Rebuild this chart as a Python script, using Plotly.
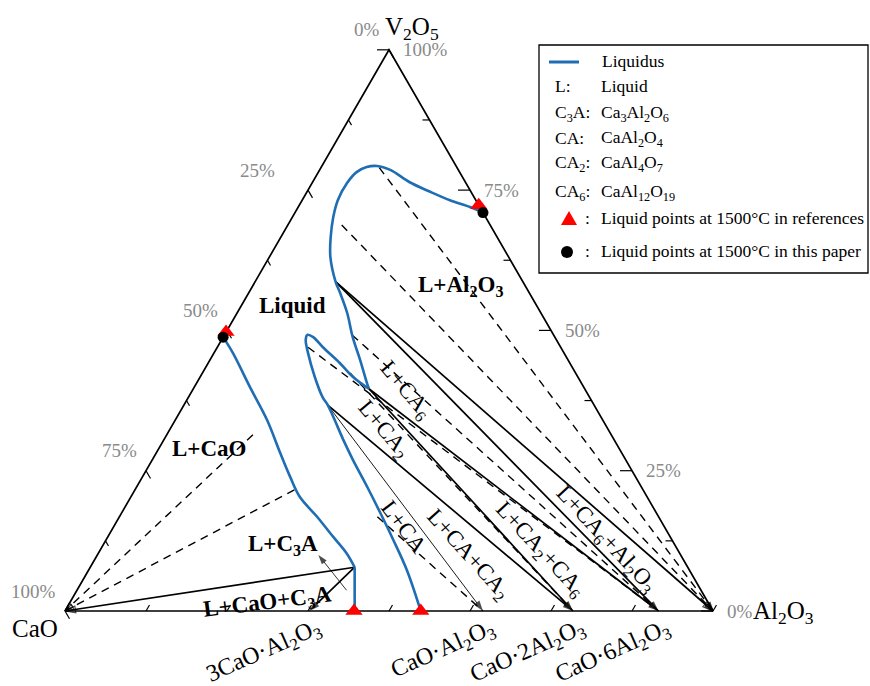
import numpy as np
import plotly.graph_objects as go

# ---------------- data: compositions in mass % (V2O5, Al2O3); CaO = balance ----------------
# liquidus of the L+CaO field (left-edge liquid down to the L+CaO+C3A liquid)
liq_cao_v2o5 = [48.8, 46.0, 39.9, 34.0, 28.2, 23.9, 20.3, 16.8, 13.2, 10.3, 7.8]
liq_cao_al2o3 = [0.0, 2.9, 8.6, 14.2, 19.1, 22.8, 26.1, 30.5, 34.8, 38.3, 40.8]
# liquidus of the narrow L+C3A field
liq_c3a_v2o5 = [7.8, 0.0]
liq_c3a_al2o3 = [40.8, 44.7]
# liquidus of the L+Al2O3 and L+CA6 fields
liq_al_v2o5 = [71.0, 72.0, 73.2, 74.7, 76.4, 78.6, 79.3, 79.1, 78.2, 76.3, 73.2, 70.2,
               66.6, 63.1, 58.7, 56.7, 53.1, 48.8, 44.7, 40.6, 39.6]
liq_al_al2o3 = [29.0, 26.5, 22.8, 19.0, 15.0, 10.9, 8.5, 7.0, 5.9, 5.4, 5.5, 6.3,
                7.7, 9.4, 12.4, 14.1, 17.0, 20.0, 23.2, 26.3, 27.1]
# liquidus of the L+CA2 and L+CA fields
liq_ca_v2o5 = [39.6, 41.7, 44.2, 47.0, 48.8, 49.2, 48.3, 46.0, 41.7, 38.1, 36.7, 34.6,
               30.5, 26.9, 22.1, 17.5, 12.7, 7.3, 0.0]
liq_ca_al2o3 = [27.1, 23.6, 20.3, 16.3, 13.9, 12.8, 13.0, 14.5, 17.7, 20.7, 22.2, 24.1,
                27.7, 31.0, 35.6, 39.9, 44.3, 49.1, 54.9]

# solid phases on the CaO-Al2O3 binary (Al2O3 mass %)
solid_names = ["CaO", "C3A", "CA", "CA2", "CA6", "Al2O3"]
solid_al2o3 = [0.0, 37.7, 64.5, 78.4, 91.6, 100.0]
compound_labels = ["3CaO·Al<sub>2</sub>O<sub>3</sub>", "CaO·Al<sub>2</sub>O<sub>3</sub>",
                   "CaO·2Al<sub>2</sub>O<sub>3</sub>", "CaO·6Al<sub>2</sub>O<sub>3</sub>"]
compound_keys = ["C3A", "CA", "CA2", "CA6"]

# invariant liquids (three-phase triangles)
inv_names = ["L1", "L2", "L3", "P1"]
inv_v2o5 = [58.7, 39.6, 36.7, 7.8]
inv_al2o3 = [12.4, 27.1, 22.2, 40.8]
tri_liquid = ["L1", "L1", "L2", "L2", "L3", "L3", "P1", "P1"]
tri_solid = ["Al2O3", "CA6", "CA6", "CA2", "CA2", "CA", "CaO", "C3A"]

# tie lines: liquid end -> solid phase
tie_v2o5 = [31.4, 21.6, 79.0, 68.8, 49.2, 47.0, 42.4, 16.8]
tie_al2o3 = [13.3, 24.6, 9.0, 8.3, 19.7, 14.0, 22.8, 39.8]
tie_solid = ["CaO", "CaO", "Al2O3", "Al2O3", "CA6", "CA6", "CA2", "CA"]

# liquid points at 1500 °C
ref_v2o5 = [72.3, 49.7, 0.0, 0.0]
ref_al2o3 = [27.7, 0.0, 44.6, 54.9]
paper_v2o5 = [71.0, 48.8]
paper_al2o3 = [29.0, 0.0]

# pointer for the L+C3A field
ptr_v2o5 = [3.7, 10.0]
ptr_al2o3 = [41.6, 34.1]

# axis scales
tick_fracs = [0.0, 0.125, 0.25, 0.375, 0.5, 0.625, 0.75, 0.875, 1.0]
tick_text = ["0%", "25%", "50%", "75%", "100%"]

# ---------------- helpers ----------------
H = np.sqrt(3) / 2
PX = 648.0          # pixels per unit triangle side
W, HT = 870, 686
FONT = "Liberation Serif, Times New Roman, serif"
BLUE = "#1f6db3"


def xy(v2o5, al2o3):
    v = np.asarray(v2o5, float) / 100.0
    a = np.asarray(al2o3, float) / 100.0
    return a + v / 2, v * H


def px(n):
    return n / PX


solid_xy = {n: xy(0, a) for n, a in zip(solid_names, solid_al2o3)}
inv_xy = {n: xy(v, a) for n, v, a in zip(inv_names, inv_v2o5, inv_al2o3)}

fig = go.Figure()


def add_line(x, y, color="black", width=1.5, dash="solid", head=None, hsize=10, shape="linear"):
    kw = dict(x=x, y=y, hoverinfo="skip", line=dict(color=color, width=width, dash=dash, shape=shape))
    if head:
        n = len(x)
        kw["mode"] = "lines+markers"
        kw["marker"] = dict(symbol=head, size=[0] * (n - 1) + [hsize], angleref="previous",
                            color=color, line=dict(color=color, width=1.2 if "open" in head else 0))
    else:
        kw["mode"] = "lines"
    fig.add_trace(go.Scatter(**kw))


# triangle frame
fx, fy = xy([0, 0, 100, 0], [0, 100, 0, 0])
add_line(list(fx), list(fy), width=1.7)

# scale ticks on the three edges
tx, ty = [], []
for i, t in enumerate(tick_fracs):
    major = i % 2 == 0
    # CaO scale, left edge
    x0, y0 = (1 - t) / 2, (1 - t) * H
    L = px(9 if major else 6)
    tx += [x0, x0 + 0.5 * L, None]
    ty += [y0, y0 - H * L, None]
    # V2O5 scale, right edge
    x0, y0 = 1 - t / 2, t * H
    L = px(12 if major else 7)
    tx += [x0, x0 - L, None]
    ty += [y0, y0, None]
    # Al2O3 scale, base
    x0, y0 = t, 0.0
    L = px(7)
    tx += [x0, x0 + 0.5 * L, None]
    ty += [y0, y0 + H * L, None]
fig.add_trace(go.Scatter(x=tx, y=ty, mode="lines", line=dict(color="black", width=1.2), hoverinfo="skip"))

# tie lines (dashed)
for v, a, s in zip(tie_v2o5, tie_al2o3, tie_solid):
    x0, y0 = xy(v, a)
    x1, y1 = solid_xy[s]
    head = "arrow-open" if s in ("CaO", "Al2O3") else None
    add_line([x0, x1], [y0, y1], width=1.4, dash="8px,6px", head=head, hsize=9)

# three-phase triangle sides
for lq, s in zip(tri_liquid, tri_solid):
    x0, y0 = inv_xy[lq]
    x1, y1 = solid_xy[s]
    thin = (lq == "L3" and s == "CA")
    head = "arrow-open" if s in ("CaO", "Al2O3") else "arrow"
    add_line([x0, x1], [y0, y1], width=0.9 if thin else 1.7, head=head, hsize=11)

# pointer to the L+C3A label
px_, py_ = xy(ptr_v2o5, ptr_al2o3)
add_line(list(px_), list(py_), width=0.8, head="arrow", hsize=10)

# liquidus curves
lx, ly = xy(liq_cao_v2o5, liq_cao_al2o3)
add_line(list(lx), list(ly), color=BLUE, width=2.6, shape="spline")
lx, ly = xy(liq_c3a_v2o5, liq_c3a_al2o3)
add_line(list(lx), list(ly), color=BLUE, width=2.6)
lx, ly = xy(liq_al_v2o5, liq_al_al2o3)
add_line(list(lx), list(ly), color=BLUE, width=2.6, shape="spline")
lx, ly = xy(liq_ca_v2o5, liq_ca_al2o3)
add_line(list(lx), list(ly), color=BLUE, width=2.6, shape="spline")

# liquid points at 1500 °C
rx, ry = xy(ref_v2o5, ref_al2o3)
fig.add_trace(go.Scatter(x=rx, y=ry, mode="markers", hoverinfo="skip",
                         marker=dict(symbol="triangle-up", size=15, color="#ff0000")))
bx, by = xy(paper_v2o5, paper_al2o3)
fig.add_trace(go.Scatter(x=bx, y=by, mode="markers", hoverinfo="skip",
                         marker=dict(symbol="circle", size=11, color="black")))

# ---------------- text ----------------
ann = []


def text(x, y, s, size=22, color="black", angle=0, xa="center", ya="middle", xs=0, ys=0, ref="data"):
    d = dict(x=x, y=y, text=s, showarrow=False, textangle=angle, xanchor=xa, yanchor=ya,
             xshift=xs, yshift=ys, font=dict(family=FONT, size=size, color=color))
    if ref == "paper":
        d.update(xref="paper", yref="paper")
    else:
        d.update(xref="x", yref="y")
    ann.append(d)


GREY = "#8a8a8a"
# edge scale labels
for t, s in zip(tick_fracs[::2], tick_text):
    # CaO fraction on the left edge (the 25% label sits further out)
    gap = -31 if s == "25%" else -7
    text((1 - t) / 2, (1 - t) * H, s, size=19, color=GREY, xa="right", xs=gap, ys=20)
    # V2O5 fraction on the right edge
    text(1 - t / 2, t * H, s, size=19, color=GREY, xa="left", xs=12)

# corner components
vx, vy = xy(100, 0)
text(vx, vy, "V<sub>2</sub>O<sub>5</sub>", size=25, xa="left", xs=-6, ys=21)
cx, cy = xy(0, 0)
text(cx, cy, "CaO", size=25, xa="right", xs=-5, ys=-17)
ax_, ay_ = xy(0, 100)
text(ax_, ay_, "Al<sub>2</sub>O<sub>3</sub>", size=25, xa="left", xs=38, ys=-1)

# compound labels under the base
for key, lab in zip(compound_keys, compound_labels):
    x0, y0 = solid_xy[key]
    text(x0, y0, lab, size=24, angle=-24, xa="right", ya="top", xs=19, ys=0)

# phase field labels
fields = [
    ("<b>Liquid</b>", 54.5, 7.8, 0),
    ("<b>L+Al<sub>2</sub>O<sub>3</sub></b>", 57.9, 32.1, 0),
    ("<b>L+CaO</b>", 28.9, 7.8, 0),
    ("<b>L+C<sub>3</sub>A</b>", 11.8, 27.7, 0),
    ("<b>L+CaO+C<sub>3</sub>A</b>", 1.4, 30.6, -7),
    ("L+CA<sub>6</sub>", 39.4, 32.8, 50),
    ("L+CA<sub>2</sub>", 32.3, 33.0, 50),
    ("L+CA", 15.0, 44.7, 53),
    ("L+CA+CA<sub>2</sub>", 10.0, 57.2, 48),
    ("L+CA<sub>2</sub>+CA<sub>6</sub>", 10.9, 67.9, 47),
    ("L+CA<sub>6</sub>+Al<sub>2</sub>O<sub>3</sub>", 12.7, 77.2, 47),
]
for s, v, a, ang in fields:
    x0, y0 = xy(v, a)
    text(float(x0), float(y0), s, size=23, angle=ang)

# ---------------- legend box ----------------
legend_line = "Liquidus"
legend_keys = ["L:", "C<sub>3</sub>A:", "CA:", "CA<sub>2</sub>:", "CA<sub>6</sub>:"]
legend_formulas = ["Liquid", "Ca<sub>3</sub>Al<sub>2</sub>O<sub>6</sub>", "CaAl<sub>2</sub>O<sub>4</sub>",
                   "CaAl<sub>4</sub>O<sub>7</sub>", "CaAl<sub>12</sub>O<sub>19</sub>"]
legend_points = ["Liquid points at 1500°C in references", "Liquid points at 1500°C in this paper"]


def P(xp, yp):
    return xp / W, 1 - yp / HT


shapes = []
x0, y0 = P(539, 45)
x1, y1 = P(868, 273)
shapes.append(dict(type="rect", xref="paper", yref="paper", x0=x0, y0=y0, x1=x1, y1=y1,
                   line=dict(color="black", width=1.3), fillcolor="white", layer="below"))
a0, b0 = P(549, 62)
a1, b1 = P(579, 62)
shapes.append(dict(type="line", xref="paper", yref="paper", x0=a0, y0=b0, x1=a1, y1=b1,
                   line=dict(color=BLUE, width=3)))
# legend triangle and circle
t1 = P(561, 225); t2 = P(577, 225); t3 = P(569, 211)
shapes.append(dict(type="path", xref="paper", yref="paper",
                   path=f"M {t1[0]},{t1[1]} L {t2[0]},{t2[1]} L {t3[0]},{t3[1]} Z",
                   fillcolor="#ff0000", line=dict(width=0)))
c0 = P(561, 246); c1 = P(573, 258)
shapes.append(dict(type="circle", xref="paper", yref="paper", x0=c0[0], y0=c1[1], x1=c1[0], y1=c0[1],
                   fillcolor="black", line=dict(width=0)))

LS = 17.5
lx0, ly0 = P(600, 61)
text(lx0, ly0, legend_line, size=LS, xa="left", ref="paper")
row_y = [86, 113, 138, 163, 192]
for k, f, yy in zip(legend_keys, legend_formulas, row_y):
    a, b = P(553, yy)
    text(a, b, k, size=LS, xa="left", ref="paper")
    a, b = P(599, yy)
    text(a, b, f, size=LS, xa="left", ref="paper")
for s, yy in zip(legend_points, [218, 251]):
    a, b = P(583, yy)
    text(a, b, ":", size=LS, xa="left", ref="paper")
    a, b = P(599, yy)
    text(a, b, s, size=LS, xa="left", ref="paper")

fig.update_layout(
    width=W, height=HT, margin=dict(l=0, r=0, t=0, b=0),
    paper_bgcolor="white", plot_bgcolor="white", showlegend=False,
    xaxis=dict(range=[-65 / PX, 805 / PX], visible=False, fixedrange=True),
    yaxis=dict(range=[-75 / PX, 611 / PX], visible=False, fixedrange=True),
    annotations=ann, shapes=shapes,
)

fig.write_html("out.html")
